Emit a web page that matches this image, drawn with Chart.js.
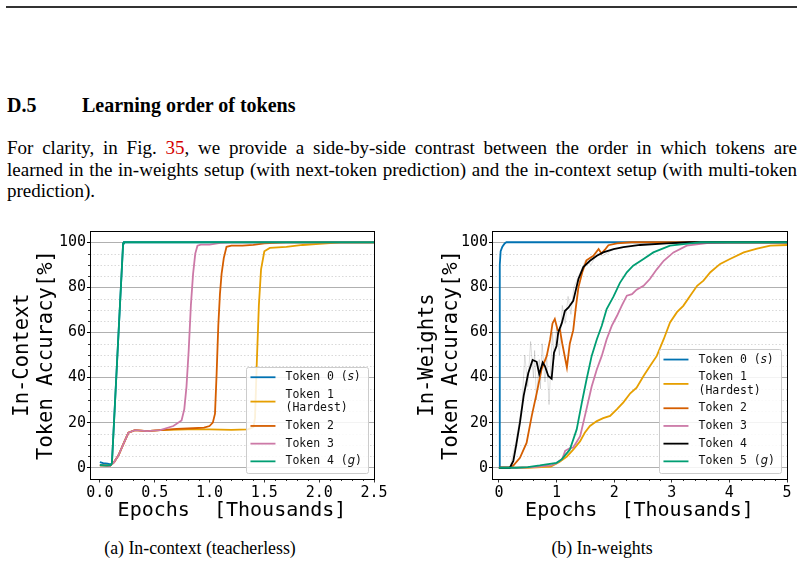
<!DOCTYPE html>
<html>
<head>
<meta charset="utf-8">
<script src="https://cdn.jsdelivr.net/npm/chart.js@4.4.0/dist/chart.umd.min.js"></script>
<style>
  body { margin: 0; background: #fff; }
  #page { position: relative; width: 804px; height: 563px; overflow: hidden; font-family: "Liberation Serif", "Times New Roman", serif; color: #000; }
  .rule { position: absolute; left: 6px; top: 6px; width: 791px; height: 2px; background: #333; }
  .head { position: absolute; top: 93px; font-size: 20px; font-weight: bold; line-height: 24px; white-space: nowrap; }
  .line { position: absolute; left: 7px; width: 790px; height: 22px; overflow: hidden; font-size: 19px; line-height: 22px; white-space: nowrap; }
  .just { text-align: justify; text-align-last: justify; white-space: normal; }
  .ref { color: #d40000; }
  .cap { position: absolute; top: 537px; font-size: 17.8px; line-height: 22px; transform: translateX(-50%); white-space: nowrap; }
  .plot { position: absolute; top: 225px; }
</style>
</head>
<body>
<div id="page">
  <div class="rule"></div>
  <div class="head" style="left:7px">D.5</div>
  <div class="head" style="left:82px">Learning order of tokens</div>
  <div class="line just" style="top:137px">For clarity, in Fig. <span class="ref">35</span>, we provide a side-by-side contrast between the order in which tokens are</div>
  <div class="line just" style="top:159px">learned in the in-weights setup (with next-token prediction) and the in-context setup (with multi-token</div>
  <div class="line" style="top:180px">prediction).</div>

  <canvas id="leftChart" class="plot" width="400" height="300" style="left:0px"></canvas>
  <canvas id="rightChart" class="plot" width="404" height="300" style="left:400px"></canvas>

  <div class="cap" style="left:200px">(a) In-context (teacherless)</div>
  <div class="cap" style="left:602px">(b) In-weights</div>
</div>

<script>
// ---- (a) in-context (teacherless), epochs in thousands ----
const icX0 = [0, 0.03, 0.07, 0.1, 0.11, 0.16, 0.212, 0.22, 2.5];
const icY0 = [2.5, 2, 1.8, 1.5, 2, 50, 99.5, 100, 100];
const icX1 = [0, 0.05, 0.09, 0.13, 0.17, 0.21, 0.26, 0.32, 0.43, 0.55, 0.8, 1.0, 1.2, 1.35, 1.4, 1.415, 1.43, 1.45, 1.47, 1.5, 1.55, 1.7, 1.85, 2.0, 2.2, 2.5];
const icY1 = [1, 1, 0.7, 2.5, 5.5, 10, 15.5, 16.7, 16.2, 16.7, 17, 17, 16.8, 17, 18, 22, 45, 72, 88, 96, 97.5, 98, 98.8, 99.3, 100, 100];
const icX2 = [0, 0.05, 0.09, 0.13, 0.17, 0.21, 0.26, 0.32, 0.43, 0.55, 0.7, 0.85, 0.95, 1.0, 1.03, 1.05, 1.065, 1.08, 1.095, 1.11, 1.13, 1.155, 1.2, 1.3, 1.4, 1.5, 1.7, 2.5];
const icY2 = [1, 1, 0.7, 2.5, 5.5, 10, 15.5, 16.7, 16.2, 16.7, 17.2, 17.5, 17.8, 18.5, 20, 24, 42, 63, 77, 86, 93, 98, 98.5, 98.5, 98.8, 99.5, 100, 100];
const icX3 = [0, 0.05, 0.09, 0.13, 0.17, 0.21, 0.26, 0.32, 0.43, 0.55, 0.67, 0.745, 0.77, 0.79, 0.81, 0.83, 0.85, 0.87, 0.89, 0.92, 1.0, 1.1, 1.2, 2.5];
const icY3 = [1, 1, 0.7, 2.5, 5.5, 10, 15.5, 16.7, 16.2, 16.7, 18.5, 21, 26, 36, 52, 72, 86, 95, 98.5, 99, 99, 99.7, 100, 100];
const icX4 = [0, 0.05, 0.1, 0.11, 0.16, 0.212, 0.22, 2.5];
const icY4 = [1.2, 1, 1.2, 2, 50, 99.5, 100, 100];

// ---- (b) in-weights ----
const iwX0 = [0, 0.005, 0.015, 0.03, 0.06, 0.1, 0.13, 5];
const iwY0 = [0, 0, 90, 96, 98, 99.5, 100, 100];
const iwX1 = [0, 0.5, 0.9, 1.05, 1.18, 1.29, 1.41, 1.49, 1.58, 1.7, 1.81, 1.93, 2.05, 2.16, 2.28, 2.39, 2.51, 2.62, 2.74, 2.86, 2.97, 3.09, 3.2, 3.32, 3.44, 3.55, 3.67, 3.84, 4.01, 4.25, 4.48, 4.71, 5];
const iwY1 = [0, 0, 0.5, 2.5, 5, 8, 11.8, 15.5, 18.5, 20.7, 22, 23, 26, 29, 33, 35.5, 40.7, 45, 49.6, 57, 64.4, 69, 71.8, 76.3, 80.7, 83, 86.7, 90.4, 92.6, 95.5, 97.2, 98.5, 98.8];
const iwX2 = [0, 0.2, 0.25, 0.365, 0.48, 0.57, 0.655, 0.74, 0.83, 0.89, 0.93, 0.97, 1.02, 1.06, 1.1, 1.18, 1.23, 1.29, 1.33, 1.38, 1.45, 1.52, 1.64, 1.73, 1.78, 1.84, 1.9, 2.05, 2.3, 5];
const iwY2 = [0, 0, 1, 4.4, 11, 23, 33, 43.7, 49.6, 57, 64, 66, 61, 61, 55, 44.5, 55, 61, 70, 80, 87, 92, 94, 97, 95, 96.7, 98.7, 99.5, 100, 100];
const iwX3 = [0, 0.3, 0.6, 0.9, 1.0, 1.1, 1.15, 1.22, 1.29, 1.41, 1.52, 1.61, 1.7, 1.785, 1.87, 1.96, 2.05, 2.13, 2.22, 2.31, 2.39, 2.51, 2.62, 2.74, 2.86, 3.03, 3.26, 3.61, 4.0, 5];
const iwY3 = [0, 0, 0.3, 1, 2, 4, 7.5, 8.5, 9, 14, 26, 36, 43.7, 49.6, 57, 63, 67.4, 71.8, 76.3, 77, 79, 80.7, 83.7, 88, 91.8, 95.5, 98.5, 99.6, 100, 100];
const iwX4 = [0, 0.19, 0.25, 0.3, 0.365, 0.43, 0.51, 0.585, 0.655, 0.7, 0.76, 0.8, 0.857, 0.915, 0.956, 1.0, 1.03, 1.09, 1.147, 1.205, 1.29, 1.38, 1.465, 1.58, 1.7, 1.81, 1.99, 2.16, 2.45, 2.91, 3.3, 5];
const iwY4 = [0, 0, 3, 10, 20, 32, 42, 47.8, 47, 41.5, 46.7, 45, 40.7, 39.5, 51, 54, 60, 64, 69.6, 71, 74, 83.7, 89, 91.8, 94, 95.5, 97, 97.8, 98.8, 99.5, 100, 100];
const iwX5 = [0, 0.3, 0.5, 0.71, 1.0, 1.09, 1.23, 1.35, 1.44, 1.52, 1.61, 1.7, 1.785, 1.87, 1.99, 2.1, 2.22, 2.33, 2.51, 2.68, 2.97, 3.32, 3.5, 5];
const iwY5 = [0, 0, 0.3, 1, 2.2, 3.7, 8, 17, 29, 39, 49.6, 57, 63, 70.4, 76, 82, 86.7, 89.6, 92.6, 95.5, 98.5, 99.5, 100, 100];
// faint unsmoothed trace of token 4 (grey spikes behind the black curve)
const iwRawX4 = [0.19, 0.3, 0.4, 0.45, 0.5, 0.55, 0.6, 0.62, 0.65, 0.7, 0.72, 0.75, 0.8, 0.83, 0.87, 0.9, 0.93, 0.96, 1.0, 1.05, 1.1, 1.15, 1.2, 1.25, 1.3, 1.4, 1.5, 1.6, 1.7, 1.8, 2.0];
const iwRawY4 = [0, 12, 28, 50, 36, 56, 40, 52, 30, 48, 35, 55, 38, 50, 28, 45, 60, 48, 62, 50, 72, 64, 76, 68, 80, 86, 92, 90, 95, 94, 97];

const icLabels = ['Token 0 (s)', 'Token 1\n(Hardest)', 'Token 2', 'Token 3', 'Token 4 (g)'];
const iwLabels = ['Token 0 (s)', 'Token 1\n(Hardest)', 'Token 2', 'Token 3', 'Token 4', 'Token 5 (g)'];

const BLUE = '#0072b2', ORANGE = '#e69f00', RED = '#d55e00', PINK = '#cc79a7', BLACK = '#000000', GREEN = '#009e73';
const MONO = '"DejaVu Sans Mono", monospace';

function pts(xs, ys) {
  return xs.map((x, i) => ({ x: x, y: ys[i] }));
}

// later series are drawn on top (chart.js draws low "order" last)
function series(label, xs, ys, color, idx) {
  return { label: label, data: pts(xs, ys), borderColor: color, backgroundColor: color, order: -idx,
           borderWidth: 1.8, pointRadius: 0, tension: 0, fill: false };
}

function rawSeries(xs, ys, color) {
  return { label: 'raw', noLegend: true, data: pts(xs, ys), borderColor: color, order: 10,
           borderWidth: 1, pointRadius: 0, tension: 0, fill: false };
}

// draws "Token 0 (s)" with the letter in italics
function labelParts(t) {
  const m = t.match(/^(.*\()(\w)(\))$/);
  return m ? [[m[1], false], [m[2], true], [m[3], false]] : [[t, false]];
}
function partFont(it) { return it ? 'oblique 11.5px "DejaVu Sans"' : '11.5px ' + MONO; }
function textWidth(ctx, t) {
  let w = 0;
  labelParts(t).forEach(p => { ctx.font = partFont(p[1]); w += ctx.measureText(p[0]).width; });
  return w;
}

// minor dotted y grid + minor ticks + full frame
const minorMarks = {
  id: 'minorMarks',
  beforeDatasetsDraw(chart, args, opts) {
    const { ctx, chartArea: a, scales: { y } } = chart;
    ctx.save();
    ctx.strokeStyle = '#cfcfcf';
    ctx.lineWidth = 0.8;
    ctx.setLineDash([1.5, 2]);
    for (let i = 1; i * 5 < 105; i++) {
      if (i % 4 === 0) continue;
      const py = Math.round(y.getPixelForValue(i * 5)) + 0.5;
      ctx.beginPath(); ctx.moveTo(a.left, py); ctx.lineTo(a.right, py); ctx.stroke();
    }
    ctx.restore();
  },
  afterDraw(chart, args, opts) {
    const { ctx, chartArea: a, scales: { x, y } } = chart;
    ctx.save();
    ctx.strokeStyle = '#000';
    ctx.lineWidth = 0.8;
    for (let i = 1; i * opts.xMinor <= x.max + 1e-9; i++) {
      if (i % opts.perMajor === 0) continue;
      const px = Math.round(x.getPixelForValue(i * opts.xMinor)) + 0.5;
      ctx.beginPath(); ctx.moveTo(px, a.bottom); ctx.lineTo(px, a.bottom + 2); ctx.stroke();
    }
    for (let i = 1; i * 5 < 105; i++) {
      if (i % 4 === 0) continue;
      const py = Math.round(y.getPixelForValue(i * 5)) + 0.5;
      ctx.beginPath(); ctx.moveTo(a.left - 2, py); ctx.lineTo(a.left, py); ctx.stroke();
    }
    ctx.lineWidth = 1;
    ctx.strokeRect(Math.round(a.left) + 0.5, Math.round(a.top) + 0.5, Math.round(a.right - a.left), Math.round(a.bottom - a.top));
    ctx.restore();
  }
};

// legend box inside the lower right corner of the plot
const insideLegend = {
  id: 'insideLegend',
  afterDraw(chart, args, opts) {
    const ctx = chart.ctx, a = chart.chartArea;
    const lineH = 13.3, gap = 4.4, padT = 3.5, padB = 5, padL = 4, handle = 25, hGap = 10, padR = 6;
    const rows = chart.data.datasets.filter(d => !d.noLegend)
      .map(d => ({ color: d.borderColor, lines: d.label.split('\n') }));
    ctx.save();
    let maxW = 0;
    rows.forEach(r => r.lines.forEach(t => { maxW = Math.max(maxW, textWidth(ctx, t)); }));
    const boxW = padL + handle + hGap + maxW + padR;
    let boxH = padT + padB;
    rows.forEach((r, i) => { boxH += r.lines.length * lineH + (i ? gap : 0); });
    const x0 = a.right - opts.offset - boxW, y0 = a.bottom - opts.offset - boxH;

    ctx.fillStyle = 'rgba(255,255,255,0.85)';
    ctx.strokeStyle = '#cccccc';
    ctx.lineWidth = 1;
    ctx.beginPath();
    ctx.roundRect(Math.round(x0) + 0.5, Math.round(y0) + 0.5, Math.round(boxW), Math.round(boxH), 2);
    ctx.fill(); ctx.stroke();

    let cy = y0 + padT;
    rows.forEach((r, i) => {
      if (i) cy += gap;
      const h = r.lines.length * lineH;
      const my = cy + h / 2;
      ctx.strokeStyle = r.color;
      ctx.lineWidth = 1.8;
      ctx.beginPath(); ctx.moveTo(x0 + padL, my); ctx.lineTo(x0 + padL + handle, my); ctx.stroke();
      r.lines.forEach((t, k) => {
        let tx = x0 + padL + handle + hGap;
        const ty = cy + lineH * k + lineH / 2;
        labelParts(t).forEach(p => {
          ctx.font = partFont(p[1]);
          ctx.fillStyle = '#111';
          ctx.textBaseline = 'middle';
          ctx.fillText(p[0], tx, ty);
          tx += ctx.measureText(p[0]).width;
        });
      });
      cy += h;
    });
    ctx.restore();
  }
};

function makeChart(id, datasets, cfg) {
  return new Chart(document.getElementById(id), {
    type: 'line',
    data: { datasets: datasets },
    plugins: [minorMarks, insideLegend],
    options: {
      responsive: false,
      animation: false,
      layout: { padding: { left: 0, top: 6, right: cfg.padRight, bottom: 0 } },
      plugins: {
        legend: { display: false },
        tooltip: { enabled: false },
        minorMarks: { xMinor: cfg.xMinor, perMajor: cfg.perMajor },
        insideLegend: { offset: 6 }
      },
      scales: {
        x: {
          type: 'linear', min: cfg.xMin, max: cfg.xMax,
          afterFit: s => { s.height = 46; s.paddingLeft = 0; s.paddingRight = 0; },
          ticks: { stepSize: cfg.xStep, includeBounds: false, autoSkip: false, maxRotation: 0,
                   callback: cfg.xFmt, font: { family: MONO, size: 15 }, color: '#000', padding: 2 },
          grid: { drawOnChartArea: false, tickColor: '#000', tickLength: 3.5, lineWidth: 0.8 },
          border: { color: '#000', width: 1 },
          title: { display: true, text: 'Epochs  [Thousands]', color: '#000',
                   font: { family: MONO, size: 20, lineHeight: 1.2 }, padding: { top: 0, bottom: 2 } }
        },
        y: {
          type: 'linear', min: -5, max: 105,
          afterFit: s => { s.width = cfg.yWidth; s.paddingTop = 0; s.paddingBottom = 0; },
          ticks: { stepSize: 20, includeBounds: false, font: { family: MONO, size: 15 }, color: '#000', padding: 1 },
          grid: { color: '#b0b0b0', lineWidth: 1, tickColor: '#000', tickLength: 3 },
          border: { color: '#000', width: 1 },
          title: { display: true, text: cfg.yTitle, color: '#000',
                   font: { family: MONO, size: 20.5, lineHeight: 1.2 }, padding: { top: cfg.yTitlePad, bottom: 0 } }
        }
      }
    }
  });
}

makeChart('leftChart', [
  series(icLabels[0], icX0, icY0, BLUE, 0),
  series(icLabels[1], icX1, icY1, ORANGE, 1),
  series(icLabels[2], icX2, icY2, RED, 2),
  series(icLabels[3], icX3, icY3, PINK, 3),
  series(icLabels[4], icX4, icY4, GREEN, 4)
], {
  xMin: -0.09, xMax: 2.5, xStep: 0.5, xMinor: 0.1, perMajor: 5, xFmt: v => v.toFixed(1),
  padRight: 26, yWidth: 90, yTitle: ['In-Context', 'Token Accuracy[%]'], yTitlePad: 10
});

makeChart('rightChart', [
  rawSeries(iwRawX4, iwRawY4, 'rgba(0,0,0,0.13)'),
  series(iwLabels[0], iwX0, iwY0, BLUE, 0),
  series(iwLabels[1], iwX1, iwY1, ORANGE, 1),
  series(iwLabels[2], iwX2, iwY2, RED, 2),
  series(iwLabels[3], iwX3, iwY3, PINK, 3),
  series(iwLabels[4], iwX4, iwY4, BLACK, 4),
  series(iwLabels[5], iwX5, iwY5, GREEN, 5)
], {
  xMin: -0.12, xMax: 5, xStep: 1, xMinor: 0.2, perMajor: 5, xFmt: v => String(Math.round(v)),
  padRight: 17, yWidth: 92, yTitle: ['In-Weights', 'Token Accuracy[%]'], yTitlePad: 15
});
</script>
</body>
</html>
